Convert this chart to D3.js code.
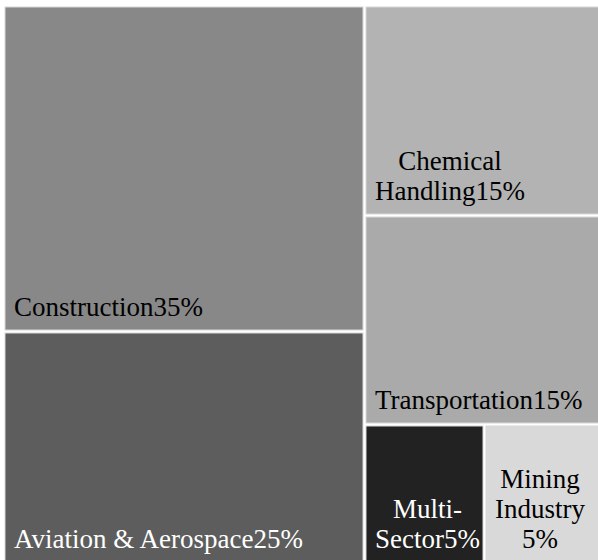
<!DOCTYPE html>
<html>
<head>
<meta charset="utf-8">
<script src="https://cdn.jsdelivr.net/npm/d3@7"></script>
<style>
  body { margin: 0; background: #fff; }
  svg { display: block; }
  text { font-family: "Liberation Serif", "Times New Roman", serif; font-size: 27px; }
</style>
</head>
<body>
<div id="chart"></div>
<script>
// sectors, share (%), fill colour, label line breaks
var categories = ["Construction", "Aviation & Aerospace", "Chemical\nHandling", "Transportation", "Multi-\nSector", "Mining\nIndustry\n"];
var values = [35, 25, 15, 15, 5, 5];
var colors = ["#888888", "#5d5d5d", "#b3b3b3", "#aaaaaa", "#222222", "#d9d9d9"];
var textColors = ["#000", "#fff", "#000", "#000", "#fff", "#000"];

var width = 598, height = 560;

var svg = d3.select("#chart")
  .append("svg")
  .attr("width", width)
  .attr("height", height);

var data = {
  name: "root",
  children: categories.map(function(c, i) {
    return {name: c, value: values[i], color: colors[i], textColor: textColors[i]};
  })
};

var root = d3.hierarchy(data)
  .sum(function(d) { return d.value; });

d3.treemap()
  .tile(d3.treemapSquarify)
  .size([598, 556])
  .paddingInner(3)
  .round(true)(root);

var g = svg.append("g")
  .attr("transform", "translate(5,7)");

var cell = g.selectAll("g.cell")
  .data(root.leaves())
  .enter().append("g")
  .attr("class", "cell")
  .attr("transform", function(d) { return "translate(" + d.x0 + "," + d.y0 + ")"; });

cell.append("rect")
  .attr("width", function(d) { return d.x1 - d.x0; })
  .attr("height", function(d) { return d.y1 - d.y0; })
  .attr("fill", function(d) { return d.data.color; })
  .attr("stroke", "#d8d8d8")
  .attr("stroke-width", 1);

// labels: block anchored bottom-left, lines centred inside the block
var lineHeight = 30;
cell.each(function(d) {
  var lines = (d.data.name + d.data.value + "%").split("\n");
  var h = Math.min(d.y1, 555) - d.y0;
  var t = d3.select(this).append("text")
    .attr("fill", d.data.textColor)
    .attr("text-anchor", "middle");
  var spans = lines.map(function(l, i) {
    return t.append("tspan")
      .attr("y", h - 14 - (lines.length - 1 - i) * lineHeight)
      .text(l);
  });
  var blockW = d3.max(spans, function(s) { return s.node().getComputedTextLength(); });
  spans.forEach(function(s) { s.attr("x", 9 + blockW / 2); });
});
</script>
</body>
</html>
